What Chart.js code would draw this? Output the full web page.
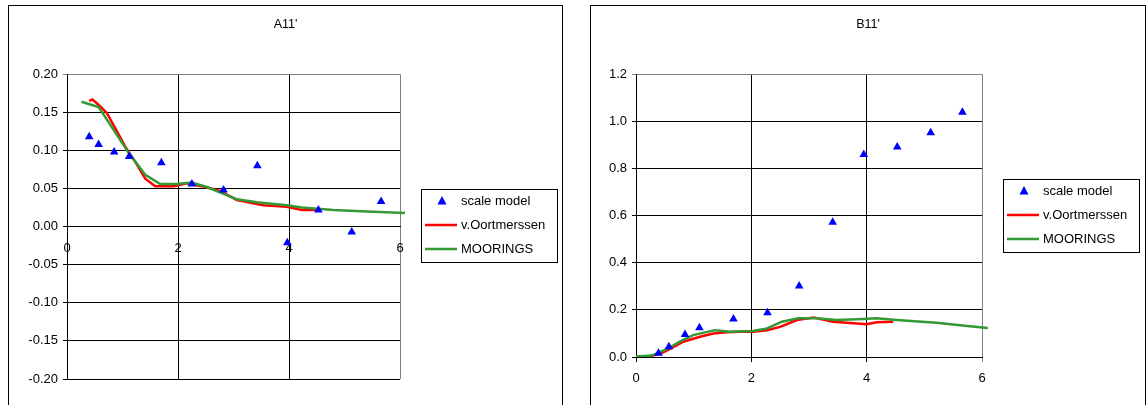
<!DOCTYPE html>
<html>
<head>
<meta charset="utf-8">
<script src="https://cdn.jsdelivr.net/npm/chart.js@4.4.1/dist/chart.umd.min.js"></script>
<style>
  body{margin:0;background:#fff;}
  .box{position:absolute;top:5px;height:402px;border:1px solid #000;box-sizing:border-box;background:#fff;}
  canvas{display:block;}
</style>
</head>
<body>
<div class="box" style="left:8px;width:555px;"><canvas id="chartA" width="553" height="400"></canvas></div>
<div class="box" style="left:590px;width:556px;"><canvas id="chartB" width="554" height="400"></canvas></div>
<script>
// series labels
const seriesNames=['scale model','v.Oortmerssen','MOORINGS'];
const xTicks=[0,2,4,6];

// A11'
const a11ModelX=[0.40,0.57,0.85,1.12,1.70,2.25,2.82,3.43,3.97,4.53,5.13,5.66];
const a11ModelY=[0.118,0.108,0.098,0.092,0.084,0.056,0.048,0.080,-0.021,0.022,-0.007,0.033];
const a11OortX=[0.40,0.46,0.60,0.72,0.87,1.05,1.23,1.41,1.59,1.92,2.16,2.49,2.76,3.06,3.54,3.96,4.23,4.55];
const a11OortY=[0.165,0.167,0.158,0.149,0.129,0.105,0.085,0.063,0.053,0.053,0.057,0.052,0.047,0.035,0.028,0.026,0.022,0.022];
const a11MoorX=[0.26,0.57,0.84,1.10,1.41,1.68,1.98,2.25,2.52,2.82,3.06,3.42,3.96,4.23,4.80,5.40,6.09];
const a11MoorY=[0.164,0.157,0.127,0.098,0.068,0.056,0.056,0.058,0.052,0.043,0.036,0.032,0.028,0.025,0.022,0.020,0.018];

// B11'
const b11ModelX=[0.39,0.57,0.85,1.10,1.69,2.28,2.83,3.41,3.95,4.53,5.11,5.66];
const b11ModelY=[0.016,0.044,0.096,0.124,0.161,0.188,0.301,0.572,0.860,0.891,0.952,1.039];
const b11OortX=[0,0.18,0.42,0.59,0.82,1.11,1.34,1.57,1.80,2.03,2.27,2.50,2.79,3.08,3.42,3.77,4.00,4.17,4.46];
const b11OortY=[0,0,0.013,0.034,0.065,0.086,0.100,0.105,0.107,0.107,0.114,0.128,0.157,0.168,0.150,0.143,0.139,0.147,0.150];
const b11MoorX=[0,0.27,0.53,0.76,0.99,1.37,1.63,2.03,2.27,2.53,2.81,3.13,3.48,3.94,4.17,4.52,5.21,5.79,6.10];
const b11MoorY=[0.002,0.006,0.033,0.065,0.093,0.114,0.107,0.110,0.121,0.150,0.164,0.164,0.157,0.161,0.164,0.157,0.145,0.131,0.123];

const FONT='"Liberation Sans", Arial, sans-serif';
const pts=(xs,ys)=>xs.map((x,i)=>({x:x,y:ys[i]}));

// boxed legend drawn inside the chart canvas
const boxLegend={
    id:'boxLegend',
    afterDraw(chart,args,opts){
        const ctx=chart.ctx;
        const L=opts.left,T=opts.top;
        ctx.save();
        ctx.strokeStyle='#000';ctx.lineWidth=1;
        ctx.strokeRect(L+0.5,T+0.5,136,73);
        ctx.font='13px '+FONT;ctx.fillStyle='#000';ctx.textBaseline='middle';
        chart.data.datasets.forEach((ds,i)=>{
            const y=T+12+i*24;
            if(ds.showLine){
                ctx.strokeStyle=ds.borderColor;ctx.lineWidth=2.5;
                ctx.beginPath();ctx.moveTo(L+4,y);ctx.lineTo(L+36,y);ctx.stroke();
            }else{
                ctx.fillStyle=ds.backgroundColor;
                ctx.beginPath();ctx.moveTo(L+21,y-5);ctx.lineTo(L+25.5,y+3.5);ctx.lineTo(L+16.5,y+3.5);ctx.closePath();ctx.fill();
            }
            ctx.fillStyle='#000';
            ctx.fillText(ds.label,L+40,y);
        });
        ctx.restore();
    }
};

function makeChart(id,title,model,oort,moor,yMin,yMax,yStep,digits,yWidth,rightGap,bottomGap,legendTop){
    const ctx=document.getElementById(id).getContext('2d');
    return new Chart(ctx,{
        type:'scatter',
        data:{datasets:[
            {label:seriesNames[0],data:model,pointStyle:'triangle',pointRadius:5,pointBorderWidth:0,backgroundColor:'#0000ff',borderColor:'#0000ff',order:0},
            {label:seriesNames[1],data:oort,showLine:true,pointRadius:0,borderColor:'#ff0000',backgroundColor:'#ff0000',borderWidth:2.5,tension:0,order:2},
            {label:seriesNames[2],data:moor,showLine:true,pointRadius:0,borderColor:'#339933',backgroundColor:'#339933',borderWidth:2.5,tension:0,order:1,clip:{left:0,top:0,right:8,bottom:0}}
        ]},
        options:{
            responsive:false,animation:false,
            layout:{padding:{left:0,right:0,top:0,bottom:bottomGap}},
            plugins:{
                legend:{display:false},tooltip:{enabled:false},
                title:{display:true,text:title,color:'#000',font:{family:FONT,size:12.5,weight:'normal'},padding:{top:11,bottom:42.3}},
                boxLegend:{left:412,top:legendTop}
            },
            scales:{
                x:{type:'linear',position:{y:0},min:0,max:6,
                    afterBuildTicks:s=>{s.ticks=xTicks.map(v=>({value:v}));},
                    grid:{color:c=>c.tick&&c.tick.value===6?'#808080':'#000',tickLength:4},
                    border:{display:true,color:'#000'},
                    ticks:{color:'#000',padding:10,maxRotation:0,font:{family:FONT,size:13}}},
                y:{type:'linear',position:'left',min:yMin,max:yMax,
                    afterFit:s=>{s.width=yWidth;},
                    grid:{color:c=>c.tick&&Math.abs(c.tick.value-yMax)<1e-9?'#808080':'#000',tickLength:4},
                    border:{display:true,color:'#000'},
                    ticks:{stepSize:yStep,color:'#000',padding:5,font:{family:FONT,size:13},callback:v=>v.toFixed(digits)}},
                // empty right-hand axis that reserves the room where the legend sits
                gap:{type:'linear',position:'right',display:true,
                    afterFit:s=>{s.width=rightGap;},
                    grid:{display:false},border:{display:false},ticks:{display:false}}
            }
        },
        plugins:[boxLegend]
    });
}

makeChart('chartA',"A11'",pts(a11ModelX,a11ModelY),pts(a11OortX,a11OortY),pts(a11MoorX,a11MoorY),
    -0.2,0.2,0.05,2,58,162,27,183);
makeChart('chartB',"B11'",pts(b11ModelX,b11ModelY),pts(b11OortX,b11OortY),pts(b11MoorX,b11MoorY),
    0,1.2,0.2,1,45,163,49,173);
</script>
</body>
</html>
